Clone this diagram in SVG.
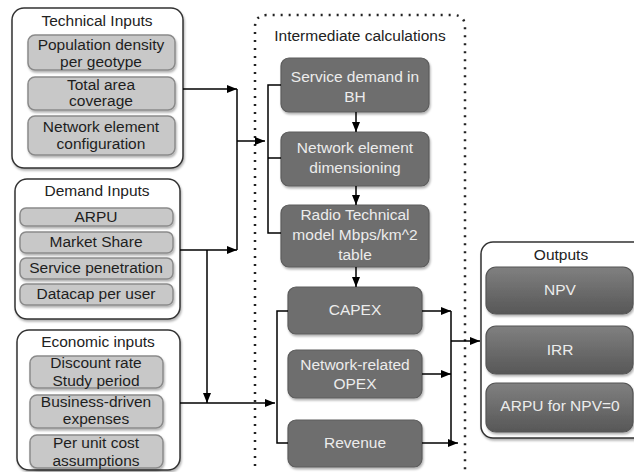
<svg xmlns="http://www.w3.org/2000/svg" width="634" height="472" viewBox="0 0 634 472">
<defs>
<style>
text{font-family:"Liberation Sans",Arial,sans-serif;font-size:15.5px;text-anchor:middle}
.cont{fill:#fff;stroke:#333;stroke-width:1.5}
.lt{fill:#c8c8c8;stroke:#8a8a8a;stroke-width:1.5}
.lt-t{fill:#1e1e1e}
.dk{fill:#6e6e6e;stroke:#5c5c5c;stroke-width:1.2}
.dk-t{fill:#ececec}
.out{fill:url(#og);stroke:#555;stroke-width:1.2}
.ttl{fill:#222}
.dot{fill:none;stroke:#222;stroke-width:2.5;stroke-dasharray:2 6}
.c{fill:none;stroke:#000;stroke-width:1.5}
</style>
<linearGradient id="og" x1="0" y1="0" x2="0" y2="1">
<stop offset="0" stop-color="#808080"/>
<stop offset="1" stop-color="#575757"/>
</linearGradient>
<filter id="sh" x="-10%" y="-10%" width="130%" height="140%">
<feDropShadow dx="1" dy="2" stdDeviation="1.2" flood-color="#000" flood-opacity="0.3"/>
</filter>
<marker id="ah" markerWidth="10" markerHeight="8" refX="10" refY="4" orient="auto" markerUnits="userSpaceOnUse">
<path d="M0,0 L10,4 L0,8 z" fill="#000"/>
</marker>
</defs>
<rect width="634" height="472" fill="#fff"/>

<g id="technical-inputs">
<rect class="cont" x="12" y="8" width="171" height="160" rx="12" filter="url(#sh)"/>
<text class="ttl" x="97" y="26">Technical Inputs</text>
<rect class="lt" x="28" y="35" width="147" height="35" rx="7" filter="url(#sh)"/>
<text class="lt-t" x="101" y="50">Population density</text>
<text class="lt-t" x="101" y="67">per geotype</text>
<rect class="lt" x="28" y="77" width="147" height="33" rx="7" filter="url(#sh)"/>
<text class="lt-t" x="101" y="90">Total area</text>
<text class="lt-t" x="101" y="106">coverage</text>
<rect class="lt" x="28" y="116" width="147" height="39" rx="7" filter="url(#sh)"/>
<text class="lt-t" x="101" y="132">Network element</text>
<text class="lt-t" x="101" y="149">configuration</text>
</g>

<g id="demand-inputs">
<rect class="cont" x="15" y="179" width="165" height="140" rx="12" filter="url(#sh)"/>
<text class="ttl" x="97" y="196">Demand Inputs</text>
<rect class="lt" x="20" y="208" width="153" height="18" rx="6" filter="url(#sh)"/>
<text class="lt-t" x="96" y="222">ARPU</text>
<rect class="lt" x="20" y="232" width="153" height="21" rx="6" filter="url(#sh)"/>
<text class="lt-t" x="96" y="247">Market Share</text>
<rect class="lt" x="20" y="258" width="153" height="21" rx="6" filter="url(#sh)"/>
<text class="lt-t" x="96" y="273">Service penetration</text>
<rect class="lt" x="20" y="284" width="153" height="21" rx="6" filter="url(#sh)"/>
<text class="lt-t" x="96" y="299">Datacap per user</text>
</g>

<g id="economic-inputs">
<rect class="cont" x="17" y="330" width="163" height="140" rx="12" filter="url(#sh)"/>
<text class="ttl" x="98" y="347">Economic inputs</text>
<rect class="lt" x="30" y="356" width="133" height="32" rx="7" filter="url(#sh)"/>
<text class="lt-t" x="96" y="368">Discount rate</text>
<text class="lt-t" x="96" y="386">Study period</text>
<rect class="lt" x="30" y="395" width="133" height="33" rx="7" filter="url(#sh)"/>
<text class="lt-t" x="96" y="407">Business-driven</text>
<text class="lt-t" x="96" y="424">expenses</text>
<rect class="lt" x="30" y="435" width="133" height="33" rx="7" filter="url(#sh)"/>
<text class="lt-t" x="96" y="448">Per unit cost</text>
<text class="lt-t" x="96" y="466">assumptions</text>
</g>

<g id="intermediate-calculations">
<path class="dot" d="M255,490 V27 Q255,15 267,15 H453 Q465,15 465,27 V490"/>
<text class="ttl" x="360" y="41">Intermediate calculations</text>
</g>

<g id="service-demand">
<rect class="dk" x="281" y="58" width="148" height="54" rx="8" filter="url(#sh)"/>
<text class="dk-t" x="355" y="82">Service demand in</text>
<text class="dk-t" x="355" y="102">BH</text>
</g>
<g id="network-dimensioning">
<rect class="dk" x="281" y="132" width="148" height="54" rx="8" filter="url(#sh)"/>
<text class="dk-t" x="355" y="153">Network element</text>
<text class="dk-t" x="355" y="173">dimensioning</text>
</g>
<g id="radio-model">
<rect class="dk" x="281" y="205" width="148" height="62" rx="8" filter="url(#sh)"/>
<text class="dk-t" x="355" y="220">Radio Technical</text>
<text class="dk-t" x="355" y="240">model Mbps/km^2</text>
<text class="dk-t" x="355" y="260">table</text>
</g>
<g id="capex">
<rect class="dk" x="288" y="287" width="134" height="47" rx="8" filter="url(#sh)"/>
<text class="dk-t" x="355" y="315">CAPEX</text>
</g>
<g id="opex">
<rect class="dk" x="288" y="350" width="134" height="48" rx="8" filter="url(#sh)"/>
<text class="dk-t" x="355" y="370">Network-related</text>
<text class="dk-t" x="355" y="389">OPEX</text>
</g>
<g id="revenue">
<rect class="dk" x="288" y="420" width="134" height="47" rx="8" filter="url(#sh)"/>
<text class="dk-t" x="355" y="448">Revenue</text>
</g>

<g id="outputs">
<rect class="cont" x="481" y="242" width="165" height="196" rx="12" filter="url(#sh)"/>
<text class="ttl" x="561" y="260">Outputs</text>
<rect class="out" x="486" y="267" width="147" height="47" rx="10" filter="url(#sh)"/>
<text class="dk-t" x="560" y="295">NPV</text>
<rect class="out" x="486" y="326" width="147" height="48" rx="10" filter="url(#sh)"/>
<text class="dk-t" x="560" y="355">IRR</text>
<rect class="out" x="486" y="383" width="147" height="49" rx="10" filter="url(#sh)"/>
<text class="dk-t" x="560" y="411">ARPU for NPV=0</text>
</g>

<g id="connectors">
<path class="c" d="M183,89 H237" marker-end="url(#ah)"/>
<path class="c" d="M237,89 V250"/>
<path class="c" d="M237,141 H265" marker-end="url(#ah)"/>
<path class="c" d="M180,250 H237" marker-end="url(#ah)"/>
<path class="c" d="M207,250 V403" marker-end="url(#ah)"/>
<path class="c" d="M180,403 H275" marker-end="url(#ah)"/>
<path class="c" d="M281,85 H268 V233 H281 M268,158 H281"/>
<path class="c" d="M356,112 V132" marker-end="url(#ah)"/>
<path class="c" d="M356,186 V205" marker-end="url(#ah)"/>
<path class="c" d="M356,267 V287" marker-end="url(#ah)"/>
<path class="c" d="M288,311 H277 V443 H288"/>
<path class="c" d="M422,311 H451" marker-end="url(#ah)"/>
<path class="c" d="M422,374 H451" marker-end="url(#ah)"/>
<path class="c" d="M422,443 H458" marker-end="url(#ah)"/>
<path class="c" d="M451,311 V443"/>
<path class="c" d="M451,341 H480" marker-end="url(#ah)"/>
</g>
</svg>
